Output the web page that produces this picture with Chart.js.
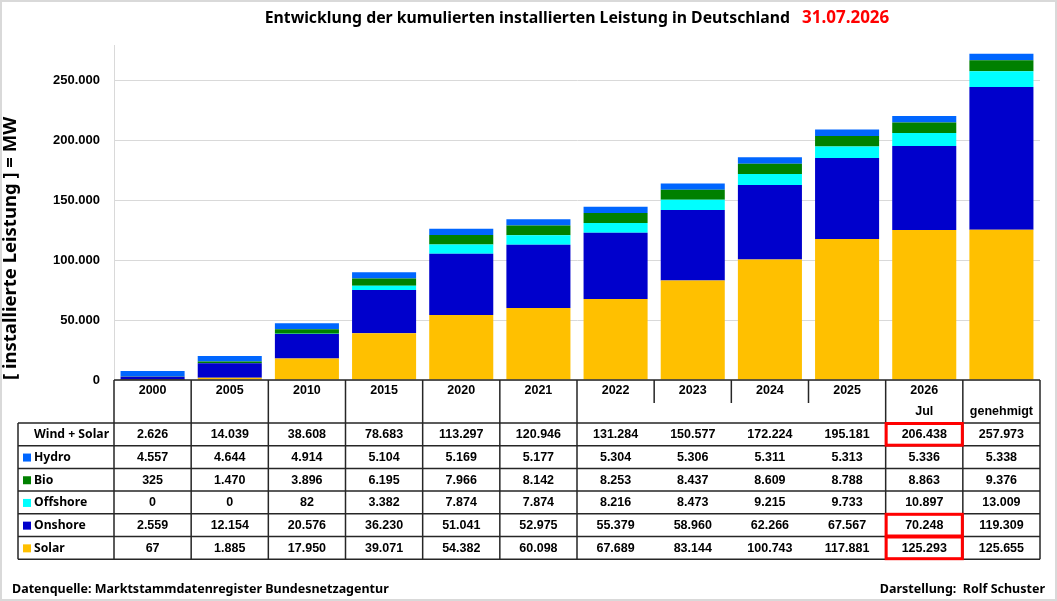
<!DOCTYPE html>
<html>
<head>
<meta charset="utf-8">
<script src="https://cdn.jsdelivr.net/npm/chart.js@4.4.1/dist/chart.umd.min.js"></script>
<style>
  html, body { margin: 0; padding: 0; background: #fff; }
  #wrap { position: relative; width: 1057px; height: 601px; overflow: hidden; }
  #frame { position: absolute; left: 0; top: 0; width: 1057px; height: 601px; box-sizing: border-box; border: 2px solid #d9d9d9; pointer-events: none; }
  #title { position: absolute; left: 114px; width: 926px; top: 5px; text-align: center; font-family: "Noto Sans", sans-serif; font-weight: bold; font-size: 15.8px; color: #000; white-space: nowrap; }
  #title .datum { color: #ff0000; font-size: 17px; margin-left: 12px; }
  .foot { position: absolute; top: 580px; font-family: "Noto Sans", sans-serif; font-weight: bold; font-size: 12.5px; color: #000; white-space: nowrap; }
</style>
</head>
<body>
<div id="wrap">
  <canvas id="chart"></canvas>
  <div id="title">Entwicklung der kumulierten installierten Leistung in Deutschland<span class="datum">31.07.2026</span></div>
  <div class="foot" style="left:12px">Datenquelle: Marktstammdatenregister Bundesnetzagentur</div>
  <div class="foot" style="right:12px">Darstellung:&nbsp; Rolf Schuster</div>
  <div id="frame"></div>
</div>
<script>
// Kategorien (Kopfzeile der Tabelle)
const years    = ['2000', '2005', '2010', '2015', '2020', '2021', '2022', '2023', '2024', '2025', '2026', ''];
const subHead  = ['', '', '', '', '', '', '', '', '', '', 'Jul', 'genehmigt'];

// installierte Leistung in MW
const solar    = [67, 1885, 17950, 39071, 54382, 60098, 67689, 83144, 100743, 117881, 125293, 125655];
const onshore  = [2559, 12154, 20576, 36230, 51041, 52975, 55379, 58960, 62266, 67567, 70248, 119309];
const offshore = [0, 0, 82, 3382, 7874, 7874, 8216, 8473, 9215, 9733, 10897, 13009];
const bio      = [325, 1470, 3896, 6195, 7966, 8142, 8253, 8437, 8609, 8788, 8863, 9376];
const hydro    = [4557, 4644, 4914, 5104, 5169, 5177, 5304, 5306, 5311, 5313, 5336, 5338];
// Summenzeile wie in der Quelle angegeben
const windSolar = [2626, 14039, 38608, 78683, 113297, 120946, 131284, 150577, 172224, 195181, 206438, 257973];

const yTicks = [0, 50000, 100000, 150000, 200000, 250000];

function fmt(n) {
  return String(n).replace(/\B(?=(\d{3})+(?!\d))/g, '.');
}

// Tabellenzeilen unter dem Diagramm
const tableRows = [
  { label: 'Wind + Solar', color: null, data: windSolar },
  { label: 'Hydro', color: '#0066ff', data: hydro },
  { label: 'Bio', color: '#008000', data: bio },
  { label: 'Offshore', color: '#00ffff', data: offshore },
  { label: 'Onshore', color: '#0000cc', data: onshore },
  { label: 'Solar', color: '#ffc000', data: solar }
];
const redCells = [[0, 10], [4, 10], [5, 10]];

const tablePlugin = {
  id: 'datatable',
  afterDraw(chart) {
    const ctx = chart.ctx;
    const x = chart.scales.x;
    const ca = chart.chartArea;
    const n = years.length;
    const colW = (ca.right - ca.left) / n;
    const edge = i => x.getPixelForValue(i) - colW / 2;
    const right = edge(n - 1) + colW;
    const top = ca.bottom;
    const headB = top + 43;
    const rowH = 22.7;
    const labL = 18;
    const bottom = headB + rowH * tableRows.length;

    ctx.save();
    ctx.strokeStyle = '#262626';
    ctx.lineWidth = 1.5;
    ctx.beginPath();
    // Kopf
    ctx.moveTo(edge(0), top); ctx.lineTo(right, top);
    for (let i = 0; i <= n; i++) {
      const xx = i < n ? edge(i) : right;
      const partial = i >= 7 && i <= 9;
      ctx.moveTo(xx, top);
      ctx.lineTo(xx, partial ? top + 23 : bottom);
    }
    // Zeilen
    for (let r = 0; r <= tableRows.length; r++) {
      const yy = headB + r * rowH;
      ctx.moveTo(labL, yy); ctx.lineTo(right, yy);
    }
    ctx.moveTo(labL, headB); ctx.lineTo(labL, bottom);
    ctx.stroke();

    ctx.fillStyle = '#000';
    ctx.textAlign = 'center';
    ctx.textBaseline = 'middle';
    ctx.font = 'bold 12.5px "Liberation Sans", Arial, sans-serif';
    for (let i = 0; i < n; i++) {
      const cx = x.getPixelForValue(i);
      ctx.fillText(years[i], cx, top + 11);
      if (subHead[i]) ctx.fillText(subHead[i], cx, top + 32);
    }
    tableRows.forEach((row, r) => {
      const cy = headB + r * rowH + rowH / 2 + 0.5;
      ctx.textAlign = 'left';
      ctx.font = 'bold 12.2px "Noto Sans", sans-serif';
      ctx.fillStyle = '#000';
      ctx.fillText(row.label, 34, cy);
      if (row.color) {
        ctx.fillStyle = row.color;
        ctx.fillRect(23, cy - 4, 8, 8);
      }
      ctx.fillStyle = '#000';
      ctx.textAlign = 'center';
      ctx.font = 'bold 12.5px "Liberation Sans", Arial, sans-serif';
      row.data.forEach((v, i) => ctx.fillText(fmt(v), x.getPixelForValue(i), cy));
    });

    ctx.strokeStyle = '#ff0000';
    ctx.lineWidth = 3;
    redCells.forEach(([r, c]) => {
      ctx.strokeRect(edge(c) + 0.5, headB + r * rowH + 0.5, colW - 1, rowH - 1);
    });
    ctx.restore();
  }
};

function ds(label, data, color) {
  return { label: label, data: data, backgroundColor: color, borderWidth: 0,
           barPercentage: 0.83, categoryPercentage: 1.0 };
}

const chart = new Chart(document.getElementById('chart'), {
  type: 'bar',
  data: {
    labels: years,
    datasets: [
      ds('Solar', solar, '#ffc000'),
      ds('Onshore', onshore, '#0000cc'),
      ds('Offshore', offshore, '#00ffff'),
      ds('Bio', bio, '#008000'),
      ds('Hydro', hydro, '#0066ff')
    ]
  },
  options: {
    responsive: true,
    maintainAspectRatio: false,
    animation: false,
    layout: { padding: { left: 0, top: 45, right: 17, bottom: 221 } },
    plugins: { legend: { display: false }, tooltip: { enabled: false }, title: { display: false } },
    scales: {
      x: { stacked: true, display: false },
      y: {
        stacked: true,
        min: 0,
        max: 280000,
        afterBuildTicks(scale) {
          scale.ticks = yTicks.map(v => ({ value: v }));
        },
        afterFit(scale) { scale.width = 114; },
        border: { color: '#d9d9d9', width: 1 },
        grid: { color: '#d9d9d9', drawTicks: false },
        ticks: {
          padding: 14,
          color: '#000',
          font: { family: '"Liberation Sans", Arial, sans-serif', weight: 'bold', size: 13 },
          callback: v => fmt(v)
        },
        title: {
          display: true,
          text: '[ installierte Leistung ] = MW',
          align: 'start',
          color: '#000',
          padding: { top: 0, bottom: 0 },
          font: { family: '"Noto Sans", sans-serif', weight: 'bold', size: 18.5 }
        }
      }
    }
  },
  plugins: [tablePlugin]
});
</script>
</body>
</html>
